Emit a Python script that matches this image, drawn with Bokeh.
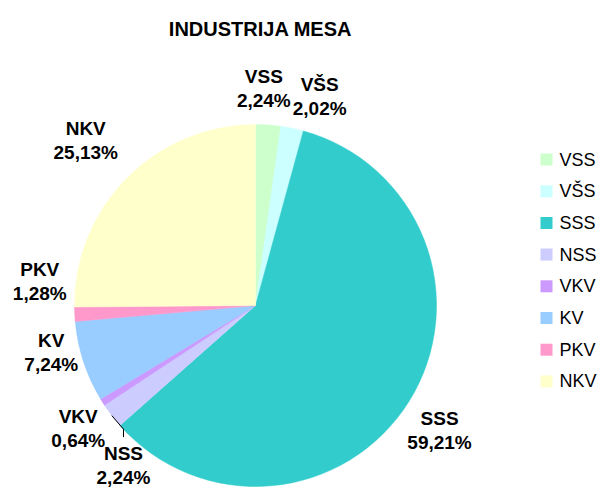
import math
from bokeh.plotting import figure
from bokeh.models import Range1d, ColumnDataSource
from bokeh.core.properties import value
from bokeh.embed import file_html
from bokeh.resources import INLINE

title = "INDUSTRIJA MESA"
categories = ["VSS", "VŠS", "SSS", "NSS", "VKV", "KV", "PKV", "NKV"]
shares = [2.24, 2.02, 59.21, 2.24, 0.64, 7.24, 1.28, 25.13]
colors = ["#CCFFCC", "#CCFFFF", "#33CCCC", "#CCCCFF", "#CC99FF", "#99CCFF", "#FF99CC", "#FFFFCC"]

# layout (pixel units of the frame; y upward)
W, H = 597, 487
CX, CY, R = 255, H - 305, 181
LABEL_R = 218
# per-label nudges (dx, dy) in pixels, y upward
nudges = [(-7, 0), (20, -4), (-1, -10), (41, -27), (7, -7), (3, 21), (2, 35), (-15, 11)]
leader = [False, False, False, True, False, False, False, False]

p = figure(width=W, height=H, x_range=Range1d(0, W), y_range=Range1d(0, H),
           output_backend="svg", toolbar_location=None, min_border=0)
p.axis.visible = False
p.grid.visible = False
p.outline_line_color = None
p.background_fill_color = "white"
p.border_fill_color = "white"

total = sum(shares)
starts, ends, mids = [], [], []
cum = 0.0
for s in shares:
    a0 = math.pi / 2 - 2 * math.pi * cum / total
    cum += s
    a1 = math.pi / 2 - 2 * math.pi * cum / total
    starts.append(a0)
    ends.append(a1)
    mids.append((a0 + a1) / 2)

src = ColumnDataSource(dict(start=starts, end=ends, color=colors,
                            x=[CX] * len(shares), y=[CY] * len(shares)))
p.wedge(x="x", y="y", radius=R, start_angle="start", end_angle="end",
        direction="clock", fill_color="color", line_color="color", line_width=0.5,
        source=src)

pct = [("%.2f" % s).replace(".", ",") + "%" for s in shares]
lx, ly = [], []
for m, (dx, dy) in zip(mids, nudges):
    lx.append(CX + LABEL_R * math.cos(m) + dx)
    ly.append(CY + LABEL_R * math.sin(m) + dy)

lab = ColumnDataSource(dict(x=lx, y1=[y + 12 for y in ly], y2=[y - 12 for y in ly],
                            name=categories, pct=pct))
for ycol, tcol in (("y1", "name"), ("y2", "pct")):
    p.text(x="x", y=ycol, text=tcol, source=lab, text_font=value("Liberation Sans"),
           text_font_style="bold", text_font_size="19px", text_align="center",
           text_baseline="middle", text_color="black")

for i, flag in enumerate(leader):
    if flag:
        m = mids[i]
        x0 = CX + R * math.cos(m)
        y0 = CY + R * math.sin(m)
        p.line([x0, lx[i], lx[i]], [y0, ly[i] + 36, ly[i] + 28],
               line_color="black", line_width=1)

# title
p.text(x=[260], y=[H - 28], text=[title], text_font=value("Liberation Sans"),
       text_font_style="bold", text_font_size="20px", text_align="center",
       text_baseline="middle", text_color="black")

# legend
LEG_X, LEG_Y0, LEG_STEP = 546, H - 159, 31.7
leg = ColumnDataSource(dict(x=[LEG_X] * len(categories),
                            y=[LEG_Y0 - i * LEG_STEP for i in range(len(categories))],
                            tx=[LEG_X + 13] * len(categories),
                            name=categories, color=colors))
p.rect(x="x", y="y", width=12, height=12, fill_color="color", line_color=None, source=leg)
p.text(x="tx", y="y", text="name", source=leg, text_font=value("Liberation Sans"),
       text_font_size="18px", text_align="left", text_baseline="middle", text_color="black")

open("out.html", "w").write(file_html(p, INLINE))
